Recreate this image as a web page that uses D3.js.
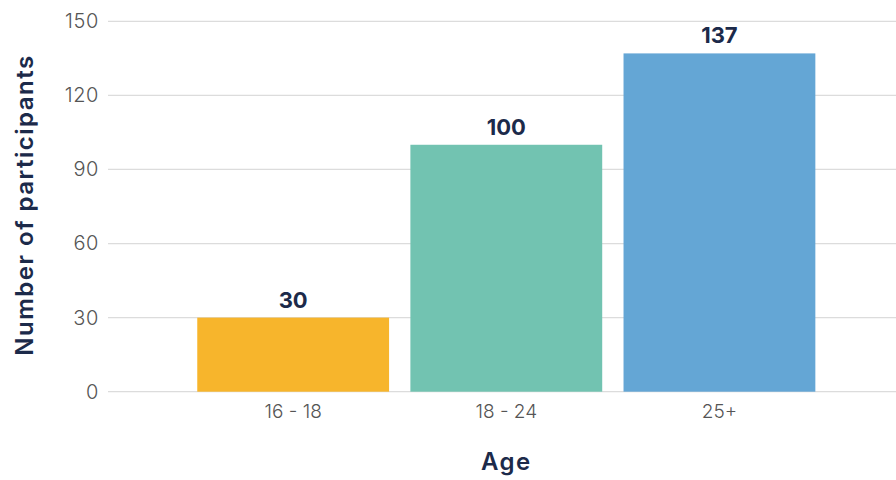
<!DOCTYPE html>
<html>
<head>
<meta charset="utf-8">
<script src="https://cdn.jsdelivr.net/npm/d3@7"></script>
<style>
  body { margin: 0; background: #fff; }
  svg { display: block; }
</style>
</head>
<body>
<div id="chartContainer"></div>
<script>
// chart data
const categories = ["16 - 18", "18 - 24", "25+"];
const participants = [30, 100, 137];
const bar_colors = ["#F7B52C", "#72C3B1", "#64A6D5"];
const y_ticks = [0, 30, 60, 90, 120, 150];

// chart properties
const BOX_WIDTH = 896;
const BOX_HEIGHT = 480;
const NAVY = "#1C2A4A";

const svg = d3.select("#chartContainer")
    .append("svg")
    .attr("width", BOX_WIDTH)
    .attr("height", BOX_HEIGHT);

const xScale = d3.scaleBand()
    .domain(categories)
    .range([186.6, 826])
    .paddingInner(0.1)
    .paddingOuter(0.05);

const yScale = d3.scaleLinear()
    .domain([0, 150])
    .range([391.7, 21.3]);

// gridlines
svg.append("g")
    .selectAll("line")
    .data(y_ticks)
    .join("line")
    .attr("x1", 108)
    .attr("x2", BOX_WIDTH)
    .attr("y1", d => yScale(d))
    .attr("y2", d => yScale(d))
    .attr("stroke", "#dcdcdc")
    .attr("stroke-width", 1.3);

// y axis labels
const yAxis = d3.axisLeft(yScale).tickValues(y_ticks).tickSize(0).tickPadding(0);
svg.append("g")
    .attr("transform", "translate(99, 0)")
    .call(yAxis)
    .call(g => g.select(".domain").remove())
    .selectAll("text")
    .attr("fill", "#555")
    .attr("font-family", "Inter, sans-serif")
    .attr("font-weight", 300)
    .attr("font-size", 20)
    .attr("letter-spacing", 0.6);

// bars
svg.append("g")
    .selectAll("rect")
    .data(categories)
    .join("rect")
    .attr("x", d => xScale(d))
    .attr("width", xScale.bandwidth())
    .attr("y", (d, i) => yScale(participants[i]))
    .attr("height", (d, i) => yScale(0) - yScale(participants[i]))
    .attr("fill", (d, i) => bar_colors[i]);

// value labels
svg.append("g")
    .selectAll("text")
    .data(categories)
    .join("text")
    .attr("x", d => xScale(d) + xScale.bandwidth() / 2)
    .attr("y", (d, i) => yScale(participants[i]) - 10)
    .attr("text-anchor", "middle")
    .attr("fill", NAVY)
    .attr("font-family", "Inter, sans-serif")
    .attr("font-weight", 700)
    .attr("font-size", 22)
    .text((d, i) => participants[i]);

// x axis labels
const xAxis = d3.axisBottom(xScale).tickSize(0).tickPadding(0);
svg.append("g")
    .attr("transform", "translate(0, 404)")
    .call(xAxis)
    .call(g => g.select(".domain").remove())
    .selectAll("text")
    .attr("fill", "#555")
    .attr("font-family", "Inter, sans-serif")
    .attr("font-weight", 300)
    .attr("font-size", 19);

// axis titles
svg.append("text")
    .attr("x", xScale("18 - 24") + xScale.bandwidth() / 2)
    .attr("y", 470)
    .attr("text-anchor", "middle")
    .attr("fill", NAVY)
    .attr("font-family", "Inter, sans-serif")
    .attr("font-weight", 600)
    .attr("font-size", 24)
    .attr("letter-spacing", 1.5)
    .text("Age");

svg.append("text")
    .attr("transform", "translate(33, 205) rotate(-90)")
    .attr("text-anchor", "middle")
    .attr("fill", NAVY)
    .attr("font-family", "Inter, sans-serif")
    .attr("font-weight", 600)
    .attr("font-size", 24)
    .attr("letter-spacing", 1.5)
    .text("Number of participants");
</script>
</body>
</html>
